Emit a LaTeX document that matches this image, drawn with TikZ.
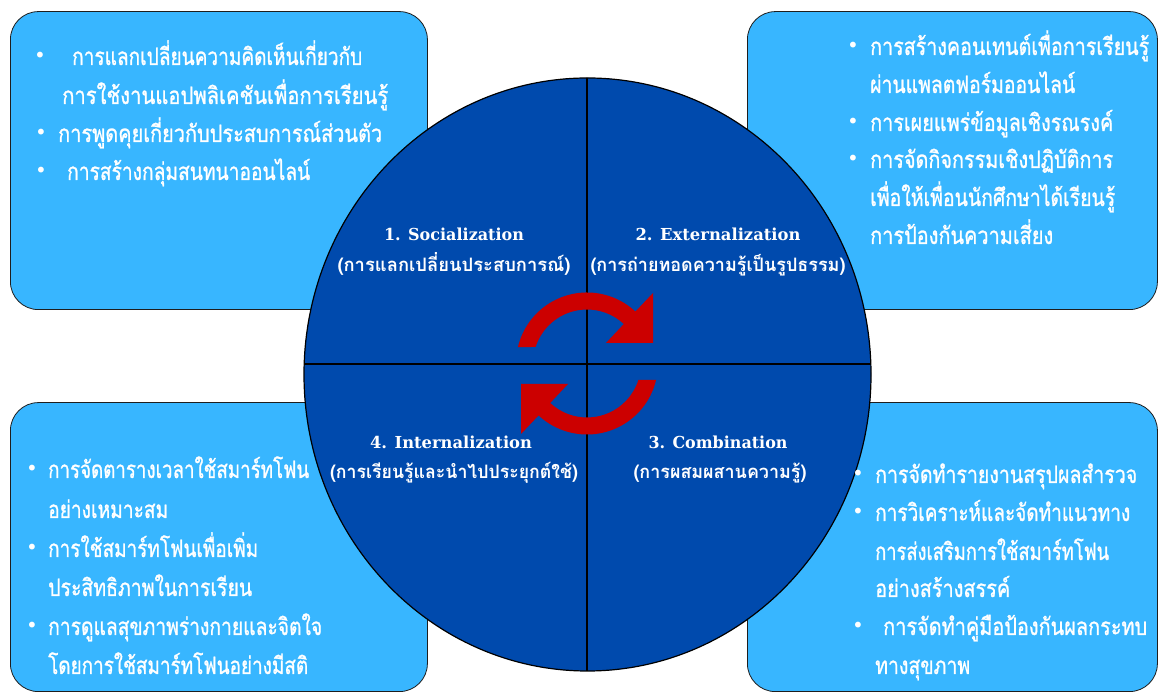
\documentclass[tikz,border=0pt]{standalone}
\usepackage{fontspec}
\usetikzlibrary{shapes.geometric}
\newfontfamily\thai[Script=Thai]{Loma}
\newfontfamily\thaimed[Script=Thai, FakeBold=1.2]{Loma}
\newfontfamily\dvserif{DejaVu Serif}
\newfontfamily\dvsans{DejaVu Sans}
\definecolor{boxblue}{HTML}{38B6FF}
\definecolor{wheelblue}{HTML}{004AAD}
\definecolor{arrowred}{HTML}{CC0000}
\definecolor{boxline}{HTML}{1E1E1E}
\newcommand\fitw[2]{\resizebox{#1pt}{\height}{#2}}
\tikzset{
  infobox/.style={draw=boxline, fill=boxblue, line width=0.8pt, rounded corners=28pt, inner sep=0pt, anchor=south west},
  txt/.style={anchor=base west, inner sep=0pt, text=white, font=\thaimed\fontsize{24}{24}\selectfont},
  bul/.style={inner sep=0pt, text=white, font=\dvsans\fontsize{20}{20}\selectfont},
  entitle/.style={anchor=base, inner sep=0pt, text=white, font=\dvserif\bfseries\fontsize{16.5}{16.5}\selectfont},
  thtitle/.style={anchor=base, inner sep=0pt, text=white, font=\thai\bfseries\fontsize{18.5}{18.5}\selectfont},
}
\begin{document}
\begin{tikzpicture}[x=1pt,y=1pt]
\useasboundingbox (0,0) rectangle (1161,695);
\fill[white] (0,0) rectangle (1161,695);
% boxes
\node[infobox, minimum width=417pt, minimum height=298pt] (tl) at (10,385) {};
\node[infobox, minimum width=410pt, minimum height=298pt] (tr) at (747,385) {};
\node[infobox, minimum width=417pt, minimum height=289pt] (bl) at (10,3) {};
\node[infobox, minimum width=410pt, minimum height=289pt] (br) at (747,3) {};
% wheel
\node[ellipse, fill=wheelblue, minimum width=567pt, minimum height=593pt, inner sep=0pt] (wheel) at (587.5,320.5) {};
\begin{scope}
  \clip (587.5,320.5) ellipse[x radius=283.5, y radius=296.5];
  \draw[line width=2pt] (587,0) -- (587,695);
  \draw[line width=2pt] (290,331) -- (890,331);
\end{scope}
\draw[line width=1.2pt] (587.5,320.5) ellipse[x radius=283.5, y radius=296.5];
% cycle arrows
\foreach \r in {0,180}{
  \fill[arrowred, shift={(587,331.5)}, rotate=\r]
    (166.6:71) arc[start angle=166.6, end angle=47, radius=71]
    -- (66,70.5) -- (66,20.5) -- (19,20.5)
    -- (47:54) arc[start angle=47, end angle=162.2, radius=54] -- cycle;
}
% wheel titles
\node[entitle] (s1) at (454,454) {\fitw{140}{1. Socialization}};
\node[thtitle] (s1t) at (454,423) {\fitw{233}{(การแลกเปลี่ยนประสบการณ์)}};
\node[entitle] (s2) at (718,454) {\fitw{165}{2. Externalization}};
\node[thtitle] (s2t) at (718,423) {\fitw{255}{(การถ่ายทอดความรู้เป็นรูปธรรม)}};
\node[entitle] (s4) at (451,246) {\fitw{162}{4. Internalization}};
\node[thtitle] (s4t) at (454,216) {\fitw{248}{(การเรียนรู้และนำไปประยุกต์ใช้)}};
\node[entitle] (s3) at (718,246) {\fitw{139}{3. Combination}};
\node[thtitle] (s3t) at (720,216) {\fitw{173}{(การผสมผสานความรู้)}};
% top-left text
\foreach \x/\y/\w/\t [count=\i] in {
  72/57/290/การแลกเปลี่ยนความคิดเห็นเกี่ยวกับ,
  62/96/326/การใช้งานแอปพลิเคชันเพื่อการเรียนรู้,
  58/134/324/การพูดคุยเกี่ยวกับประสบการณ์ส่วนตัว,
  67/172/243/การสร้างกลุ่มสนทนาออนไลน์}
  \node[txt] (tl\i) at (\x,687-\y) {\fitw{\w}{\t}};
\foreach \x/\y [count=\i] in {40/57,41/134,41/172}
  \node[bul] (tlb\i) at (\x,695-\y) {•};
% top-right text
\foreach \x/\y/\w/\t [count=\i] in {
  870/47/279/การสร้างคอนเทนต์เพื่อการเรียนรู้,
  870/85/205/ผ่านแพลตฟอร์มออนไลน์,
  870/123/243/การเผยแพร่ข้อมูลเชิงรณรงค์,
  870/160/243/การจัดกิจกรรมเชิงปฏิบัติการ,
  870/198/245/เพื่อให้เพื่อนนักศึกษาได้เรียนรู้,
  870/236/183/การป้องกันความเสี่ยง}
  \node[txt] (tr\i) at (\x,687-\y) {\fitw{\w}{\t}};
\foreach \x/\y [count=\i] in {853/47,853/123,853/160}
  \node[bul] (trb\i) at (\x,695-\y) {•};
% bottom-left text
\foreach \x/\y/\w/\t [count=\i] in {
  48/470/261/การจัดตารางเวลาใช้สมาร์ทโฟน,
  48/510/120/อย่างเหมาะสม,
  48/549/210/การใช้สมาร์ทโฟนเพื่อเพิ่ม,
  48/588/204/ประสิทธิภาพในการเรียน,
  48/627/274/การดูแลสุขภาพร่างกายและจิตใจ,
  48/666/260/โดยการใช้สมาร์ทโฟนอย่างมีสติ}
  \node[txt] (bl\i) at (\x,687-\y) {\fitw{\w}{\t}};
\foreach \x/\y [count=\i] in {32/470,32/549,32/627}
  \node[bul] (blb\i) at (\x,695-\y) {•};
% bottom-right text
\foreach \x/\y/\w/\t [count=\i] in {
  875/475/262/การจัดทำรายงานสรุปผลสำรวจ,
  875/513/255/การวิเคราะห์และจัดทำแนวทาง,
  875/552/234/การส่งเสริมการใช้สมาร์ทโฟน,
  875/589/135/อย่างสร้างสรรค์,
  883/627/264/การจัดทำคู่มือป้องกันผลกระทบ,
  875/666/95/ทางสุขภาพ}
  \node[txt] (br\i) at (\x,687-\y) {\fitw{\w}{\t}};
\foreach \x/\y [count=\i] in {858/475,858/513,858/627}
  \node[bul] (brb\i) at (\x,695-\y) {•};
\end{tikzpicture}
\end{document}
